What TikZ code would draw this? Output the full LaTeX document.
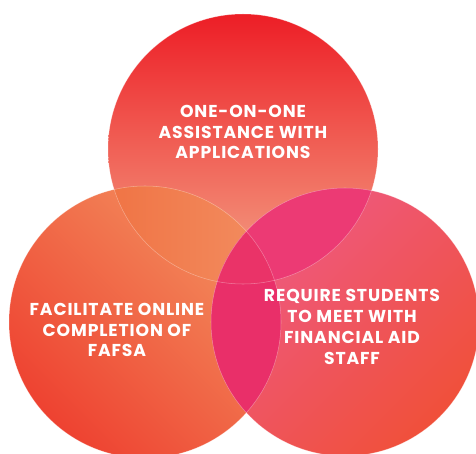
\documentclass[tikz,border=0pt]{standalone}
\usepackage{fontspec}
\setmainfont{Poppins}
\newfontfamily\labelfont{Poppins}[LetterSpace=5]

\definecolor{topred}{HTML}{ED1E26}
\definecolor{topmid}{HTML}{EE3A2E}
\definecolor{toplight}{HTML}{F4A487}
\definecolor{leftdark}{HTML}{EE4231}
\definecolor{leftlight}{HTML}{F3915F}
\definecolor{rightpink}{HTML}{EE5A86}
\definecolor{rightorange}{HTML}{F0503A}
\definecolor{tlover}{HTML}{EE6434}
\definecolor{tloverlight}{HTML}{F38F62}
\definecolor{trover}{HTML}{EC3A74}
\definecolor{lrover}{HTML}{E92F69}
\definecolor{allover}{HTML}{EA3368}

\begin{document}
\begin{tikzpicture}[x=0.02cm,y=0.02cm,
    label/.style={text=white,align=center,
      font=\labelfont\bfseries\fontsize{9.8}{11.8}\selectfont},
    edge/.style={draw=white,draw opacity=.35,line width=.3pt}]
    \clip (0,0) rectangle (476,453);
    %% Centres of the circles
    \coordinate (T) at (243,304);
    \coordinate (L) at (145,131);
    \coordinate (R) at (345,131);
    %% Draw the circles
    \shade[top color=topred,middle color=topmid,bottom color=toplight]
      (T) circle (135);
    \shade[top color=leftlight,bottom color=leftdark,shading angle=-45]
      (L) circle (136);
    \shade[top color=rightpink,middle color=rightpink,bottom color=rightorange,
      shading angle=45] (R) circle (134);
    %% Draw the overlaps
    \begin{scope}
      \clip (T) circle (135);
      \shade[left color=tlover,right color=tloverlight] (L) circle (136);
      \fill[trover] (R) circle (134);
    \end{scope}
    \begin{scope}
      \clip (L) circle (136);
      \fill[lrover] (R) circle (134);
      \clip (T) circle (135);
      \fill[allover] (R) circle (134);
    \end{scope}
    %% Draw the thin edges
    \draw[edge] (T) circle (135);
    \draw[edge] (L) circle (136);
    \draw[edge] (R) circle (134);
    %% Draw the texts
    \node[label] (assist) at (243,321) {ONE-ON-ONE\\ASSISTANCE WITH\\APPLICATIONS};
    \node[label] (fafsa) at (117,123) {FACILITATE ONLINE\\COMPLETION OF\\FAFSA};
    \node[label] (staff) at (352,126) {REQUIRE STUDENTS\\TO MEET WITH\\FINANCIAL AID\\STAFF};
\end{tikzpicture}
\end{document}
